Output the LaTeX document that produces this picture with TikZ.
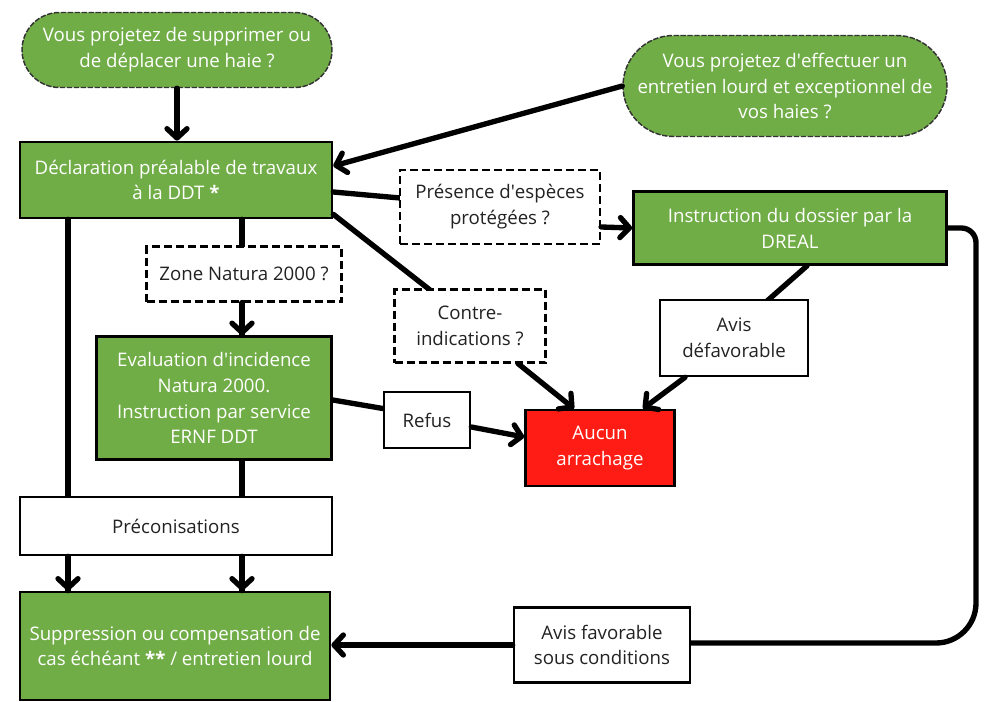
\documentclass[tikz,border=0pt]{standalone}
\usepackage{fontspec}
\setmainfont{Open Sans}
\usepackage{xcolor}
\definecolor{leaf}{RGB}{112,173,71}
\definecolor{stop}{RGB}{255,28,20}
\definecolor{ink}{RGB}{34,34,34}
\usetikzlibrary{arrows.meta}
\usetikzlibrary{shapes.misc}
\usetikzlibrary{calc}
\newcommand{\ap}{\textquotesingle}

\begin{document}
\begin{tikzpicture}[x=0.75pt, y=-0.75pt,
    every node/.style={align=center, inner sep=0pt, font=\fontsize{14}{19.4}\selectfont},
    startbox/.style={rounded rectangle, fill=leaf, text=white, draw=black!80, line width=1.1pt, dash pattern=on 4pt off 1.2pt},
    greenbox/.style={rectangle, fill=leaf, text=white, draw=black, line width=2pt},
    redbox/.style={rectangle, fill=stop, text=white, draw=black, line width=2pt},
    askbox/.style={rectangle, fill=white, text=ink, draw=black, line width=1.6pt, dash pattern=on 6pt off 3pt},
    notebox/.style={rectangle, fill=white, text=ink, draw=black, line width=2pt},
    link/.style={line width=4pt, line cap=round},
    flow/.style={link, -{Straight Barb[round, length=7pt, width=15pt, line width=4pt]}}]

    \useasboundingbox (0,0) rectangle (991,702);

    % columns for the vertical links
    \coordinate (colA) at (68,0);
    \coordinate (colB) at (242,0);
    \coordinate (colC) at (976,400);

    % green and red boxes
    \node[startbox, minimum width=232.5pt, minimum height=56.25pt] (start1) at (177,50) {Vous projetez de supprimer ou\\de déplacer une haie ?};
    \node[startbox, minimum width=243pt, minimum height=75.75pt] (start2) at (785,86) {Vous projetez d\ap effectuer un\\entretien lourd et exceptionnel de\\vos haies ?};
    \node[greenbox, minimum width=234pt, minimum height=57pt] (decl) at (176,180) {Déclaration préalable de travaux\\à la DDT \textbf{*}};
    \node[greenbox, minimum width=234.75pt, minimum height=54.75pt] (dreal) at (790,228) {Instruction du dossier par la\\DREAL};
    \node[greenbox, minimum width=176.25pt, minimum height=92.25pt] (eval) at (214,398) {Evaluation d\ap incidence\\Natura 2000.\\Instruction par service\\ERNF DDT};
    \node[greenbox, minimum width=232.5pt, minimum height=81pt] (suppr) at (175,646) {Suppression ou compensation de\\cas échéant \textbf{**} / entretien lourd};
    \node[redbox, minimum width=111.75pt, minimum height=57pt] (aucun) at (600,448) {Aucun\\arrachage};

    % links drawn under the question boxes
    \draw[flow] (start1.south) -- (start1.south |- decl.north);
    \draw[flow] (start2.west) -- ($(decl.east)+(0,-14)$);
    \draw[link] ($(decl.east)+(0,12)$) -- (500,207);
    \draw[link] ($(decl.south east)+(0,-5)$) -- (430,290);
    \draw[link] (colB |- decl.south) -- (colB |- eval.north);
    \draw[link] (colA |- decl.south) -- (colA |- suppr.north);
    \draw[link] (colB |- eval.south) -- (colB |- suppr.north);
    \draw[link] ($(eval.east)+(0,2)$) -- (427,416);
    \draw[link] ($(dreal.south)+(17,0)$) -- (725,338);
    \draw[link] (dreal.east) [rounded corners=11pt] -| (colC) [rounded corners=30pt] |- (602,643);

    % white boxes
    \node[askbox, minimum width=150pt, minimum height=55.5pt] (especes) at (500,207) {Présence d\ap espèces\\protégées ?};
    \node[askbox, minimum width=146.25pt, minimum height=41.25pt] (natura) at (244,274) {Zone Natura 2000 ?};
    \node[askbox, minimum width=113.25pt, minimum height=54.75pt] (contre) at (470,326) {Contre-\\indications ?};
    \node[notebox, minimum width=111pt, minimum height=57pt] (avisdef) at (734,338) {Avis\\défavorable};
    \node[notebox, minimum width=64.5pt, minimum height=42pt] (refus) at (427,420) {Refus};
    \node[notebox, minimum width=234pt, minimum height=43.5pt] (preco) at (176,526) {Préconisations};
    \node[notebox, minimum width=132pt, minimum height=56.25pt] (favorable) at (602,645) {Avis favorable\\sous conditions};

    \draw[flow] (colB |- natura.south) -- (colB |- eval.north);
    \draw[flow] (colA |- preco.south) -- (colA |- suppr.north);
    \draw[flow] (colB |- preco.south) -- (colB |- suppr.north);
    \draw[flow] ($(especes.east)+(0,20)$) -- (dreal.west);
    \draw[flow] ($(contre.south)+(48,0)$) -- ($(aucun.north)+(-26,0)$);
    \draw[flow] ($(refus.east)+(0,7)$) -- ($(aucun.west)+(0,-11)$);
    \draw[flow] ($(avisdef.south)+(-49,0)$) -- ($(aucun.north)+(43,0)$);
    \draw[flow] (favorable.west) -- (favorable.west -| suppr.east);

\end{tikzpicture}
\end{document}
